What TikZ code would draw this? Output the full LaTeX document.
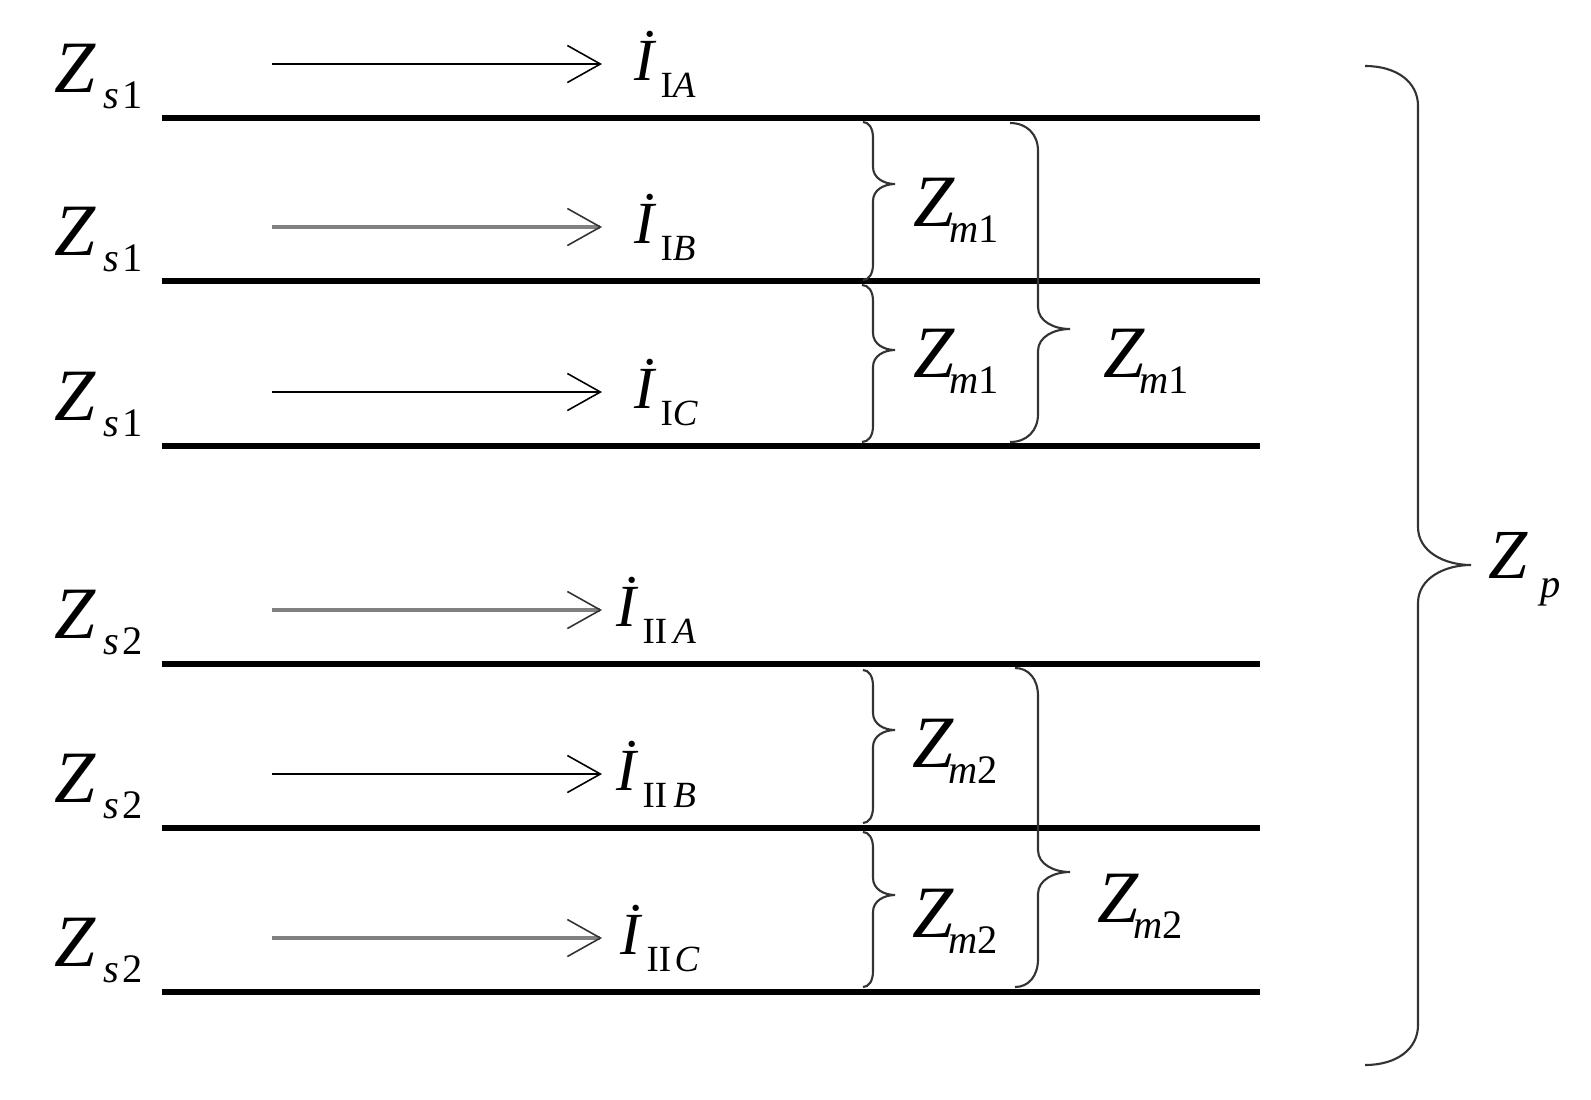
\documentclass[tikz,border=0pt]{standalone}
\usepackage{fontspec}
\setmainfont{Liberation Serif}
\usetikzlibrary{arrows.meta}

% impedance symbol Z with subscript, current symbol with dot
\newcommand{\impZ}[2][2.2pt]{{\fontsize{21}{21}\selectfont\itshape Z}\kern#1\raisebox{-4.8pt}{\fontsize{11.5}{11.5}\selectfont #2}}
\newcommand{\curI}[1]{{\fontsize{17}{17}\selectfont\itshape \.{I}}\kern1.7pt\raisebox{-5.1pt}{\fontsize{10.5}{10.5}\selectfont #1}}

% vertical brace: x end, x stem, x tip, y top, y tip, y bottom, end radius, tip radius
\newcommand{\couplebrace}[8]{%
  \draw[coupling] (#1,#4) .. controls ({#1+0.6*(#2-#1)},#4) and (#2,{#4+0.4*#7}) .. (#2,{#4+#7})
    -- (#2,{#5-#8}) .. controls (#2,{#5-0.35*#8}) and ({#2+0.5*(#3-#2)},#5) .. (#3,#5)
    .. controls ({#2+0.5*(#3-#2)},#5) and (#2,{#5+0.35*#8}) .. (#2,{#5+#8})
    -- (#2,{#6-#7}) .. controls (#2,{#6-0.4*#7}) and ({#1+0.6*(#2-#1)},#6) .. (#1,#6);}

\tikzset{
  bus/.style={line width=1.7pt},
  feedarrow/.style={-{Straight Barb[length=0.33cm,width=0.37cm,line width=0.45pt]}, line width=0.7pt},
  feedarrowgray/.style={-{Straight Barb[length=0.33cm,width=0.37cm,line width=0.45pt,color=black!80]}, line width=1.1pt, draw=black!50},
  lbl/.style={anchor=base west, inner sep=0pt},
  coupling/.style={line width=0.6pt, draw=black!80}
}

\begin{document}
\begin{tikzpicture}[x=0.01cm,y=-0.01cm]
  \useasboundingbox (0,0) rectangle (1591,1099);

  % six conductors with their currents
  \foreach \n/\y/\zs/\isub/\ix/\sty in {
      1/64/{\textit{s}\kern1pt 1}/{I\textit{A}}/634/feedarrow,
      2/227/{\textit{s}\kern1pt 1}/{I\textit{B}}/634/feedarrowgray,
      3/392/{\textit{s}\kern1pt 1}/{I\textit{C}}/634/feedarrow,
      4/610/{\textit{s}\kern1pt 2}/{II\,\textit{A}}/616/feedarrowgray,
      5/774/{\textit{s}\kern1pt 2}/{II\,\textit{B}}/616/feedarrow,
      6/938/{\textit{s}\kern1pt 2}/{II\kern1pt\textit{C}}/620/feedarrowgray}{
    \coordinate (w\n) at (162,\y+54);
    \coordinate (e\n) at (1260,\y+54);
    \draw[bus] (w\n) -- (e\n);
    \coordinate (s\n) at (272,\y);
    \coordinate (t\n) at (602,\y);
    \draw[\sty] (s\n) -- (t\n);
    \node[lbl] (zs\n) at (54,\y+28) {\impZ{\zs}};
    \node[lbl] (cur\n) at (\ix,\y+16) {\curI{\isub}};
  }

  % mutual impedances, circuit I
  \couplebrace{863}{873}{895}{122}{184}{280}{16}{17}
  \couplebrace{862}{873}{895}{285}{350}{442}{16}{17}
  \couplebrace{1010}{1038}{1070}{123}{329}{442}{28}{22}
  \node[lbl] (zm1a) at (913,226) {\impZ[-1.5pt]{\textit{m}1}};
  \node[lbl] (zm1b) at (913,377) {\impZ[-1.5pt]{\textit{m}1}};
  \node[lbl] (zm1c) at (1103,377) {\impZ[-1.5pt]{\textit{m}1}};

  % mutual impedances, circuit II
  \couplebrace{863}{873}{895}{670}{730}{823}{16}{17}
  \couplebrace{863}{873}{895}{832}{895}{987}{16}{17}
  \couplebrace{1015}{1038}{1070}{668}{872}{987}{28}{22}
  \node[lbl] (zm2a) at (912,767) {\impZ[-1.5pt]{\textit{m}2}};
  \node[lbl] (zm2b) at (912,937) {\impZ[-1.5pt]{\textit{m}2}};
  \node[lbl] (zm2c) at (1097,922) {\impZ[-1.5pt]{\textit{m}2}};

  % between the two circuits
  \couplebrace{1365}{1418}{1471}{66}{565}{1065}{40}{38}
  \node[lbl] (zp) at (1488,578) {{\fontsize{20}{20}\selectfont\itshape Z}\kern3.7pt\raisebox{-5.4pt}{\fontsize{11.5}{11.5}\selectfont\itshape p}};
\end{tikzpicture}
\end{document}
